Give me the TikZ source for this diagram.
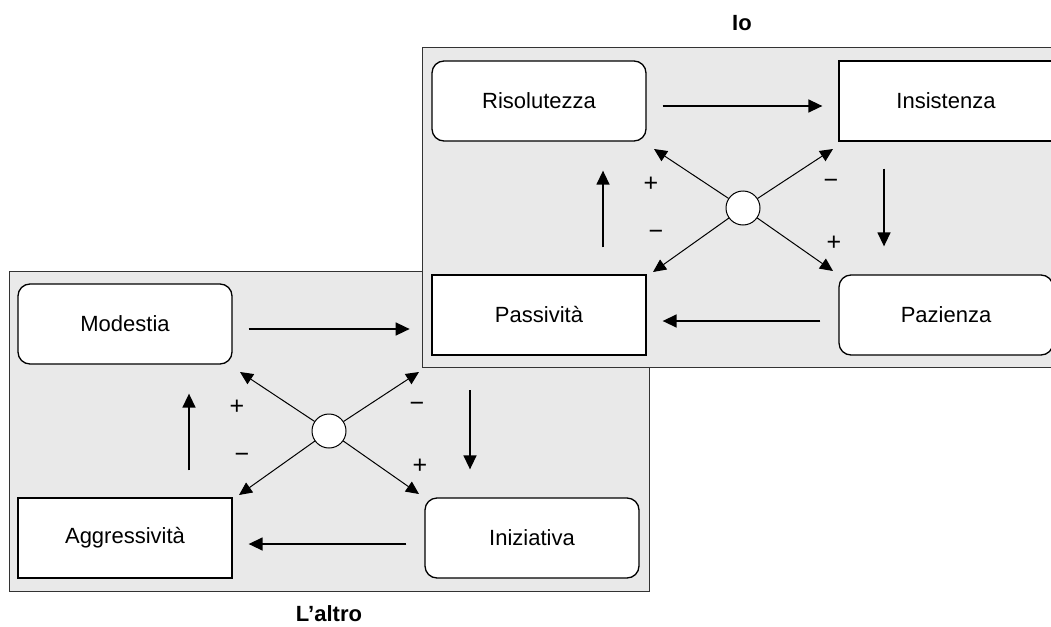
\documentclass[tikz,border=0pt]{standalone}
\usepackage{fontspec}
\setmainfont{Liberation Sans}
\usetikzlibrary{arrows.meta,calc}
\definecolor{panelgray}{RGB}{233,233,233}
\begin{document}
\begin{tikzpicture}[x=1pt,y=-1pt,
  panel/.style={draw=black!80, line width=1pt, fill=panelgray, inner sep=0pt, minimum width=640pt, minimum height=320pt, anchor=north west},
  sqbox/.style={draw, line width=1.3pt, fill=white, minimum width=214pt, minimum height=80pt, inner sep=0pt, font=\fontsize{22}{26}\selectfont},
  rbox/.style={sqbox, rounded corners=12pt},
  flow/.style={line width=1.5pt, -{Triangle[length=14pt,width=13pt]}},
  diag/.style={line width=1pt, -{Triangle[length=13pt,width=12pt]}},
  hub/.style={circle, draw, line width=1pt, fill=white, minimum size=34pt, inner sep=0pt},
  sign/.style={font=\fontsize{25}{28}\selectfont, inner sep=0pt},
  title/.style={font=\bfseries\fontsize{22}{26}\selectfont, inner sep=0pt}
]
\useasboundingbox (0,0) rectangle (1051,626);
\clip (0,0) rectangle (1051,626);

% ---------- lower panel: L'altro ----------
\node[panel] (Lpanel) at (9,271) {};
\node[rbox]  (mod) at (125,324) {Modestia};
\node[sqbox] (agg) at (125,538) {Aggressività};
\node[rbox]  (ini) at (532,538) {Iniziativa};
\node[hub]   (Lhub) at (329,431) {};
\coordinate (LrEnd) at ($(mod.east)+(177,5)$);
\coordinate (LdStart) at ($(ini.north)+(-62,-107)$);
\draw[flow] ($(mod.east)+(16,5)$) -- (LrEnd);
\draw[flow] (LdStart) -- ($(ini.north)+(-62,-28)$);
\draw[flow] ($(ini.west)+(-18,6)$) -- ($(agg.east)+(16,6)$);
\draw[flow] ($(agg.north)+(64,-27)$) -- ($(mod.south)+(64,29)$);
\coordinate (LtUL) at ($(Lhub)+(-89,-59)$);
\coordinate (LtUR) at ($(Lhub)+(90,-59)$);
\coordinate (LtLL) at ($(Lhub)+(-90,64)$);
\coordinate (LtLR) at ($(Lhub)+(90,63)$);
\draw[diag] (Lhub) -- (LtUL);
\draw[diag] (Lhub) -- (LtUR);
\draw[diag] (Lhub) -- (LtLL);
\draw[diag] (Lhub) -- (LtLR);
\node[sign] (Lp1) at ($(Lhub)+(-92,-24)$) {+};
\node[sign] (Lm1) at ($(Lhub)+(88,-24)$) {−};
\node[sign] (Lm2) at ($(Lhub)+(-87,27)$) {−};
\node[sign] (Lp2) at ($(Lhub)+(91,35)$) {+};
\node[title] (Ltitle) at (329,614) {L’altro};

% ---------- upper panel: Io ----------
\node[panel] (Upanel) at (422,47) {};
\node[rbox]  (ris) at (539,101) {Risolutezza};
\node[sqbox] (ins) at (946,101) {Insistenza};
\node[sqbox] (pas) at (539,315) {Passività};
\node[rbox]  (paz) at (946,315) {Pazienza};
\node[hub]   (Uhub) at (743,208) {};
\draw[flow] ($(ris.east)+(16,5)$) -- ($(ins.west)+(-16,5)$);
\draw[flow] ($(ins.south)+(-62,27)$) -- ($(paz.north)+(-62,-28)$);
\draw[flow] ($(paz.west)+(-18,6)$) -- ($(pas.east)+(16,6)$);
\draw[flow] ($(pas.north)+(64,-27)$) -- ($(ris.south)+(64,29)$);
\coordinate (UtUL) at ($(Uhub)+(-89,-59)$);
\coordinate (UtUR) at ($(Uhub)+(90,-59)$);
\coordinate (UtLL) at ($(Uhub)+(-90,64)$);
\coordinate (UtLR) at ($(Uhub)+(90,63)$);
\draw[diag] (Uhub) -- (UtUL);
\draw[diag] (Uhub) -- (UtUR);
\draw[diag] (Uhub) -- (UtLL);
\draw[diag] (Uhub) -- (UtLR);
\node[sign] (Up1) at ($(Uhub)+(-92,-24)$) {+};
\node[sign] (Um1) at ($(Uhub)+(88,-24)$) {−};
\node[sign] (Um2) at ($(Uhub)+(-87,27)$) {−};
\node[sign] (Up2) at ($(Uhub)+(91,35)$) {+};
\node[title] (Utitle) at (742,23) {Io};
\end{tikzpicture}
\end{document}
